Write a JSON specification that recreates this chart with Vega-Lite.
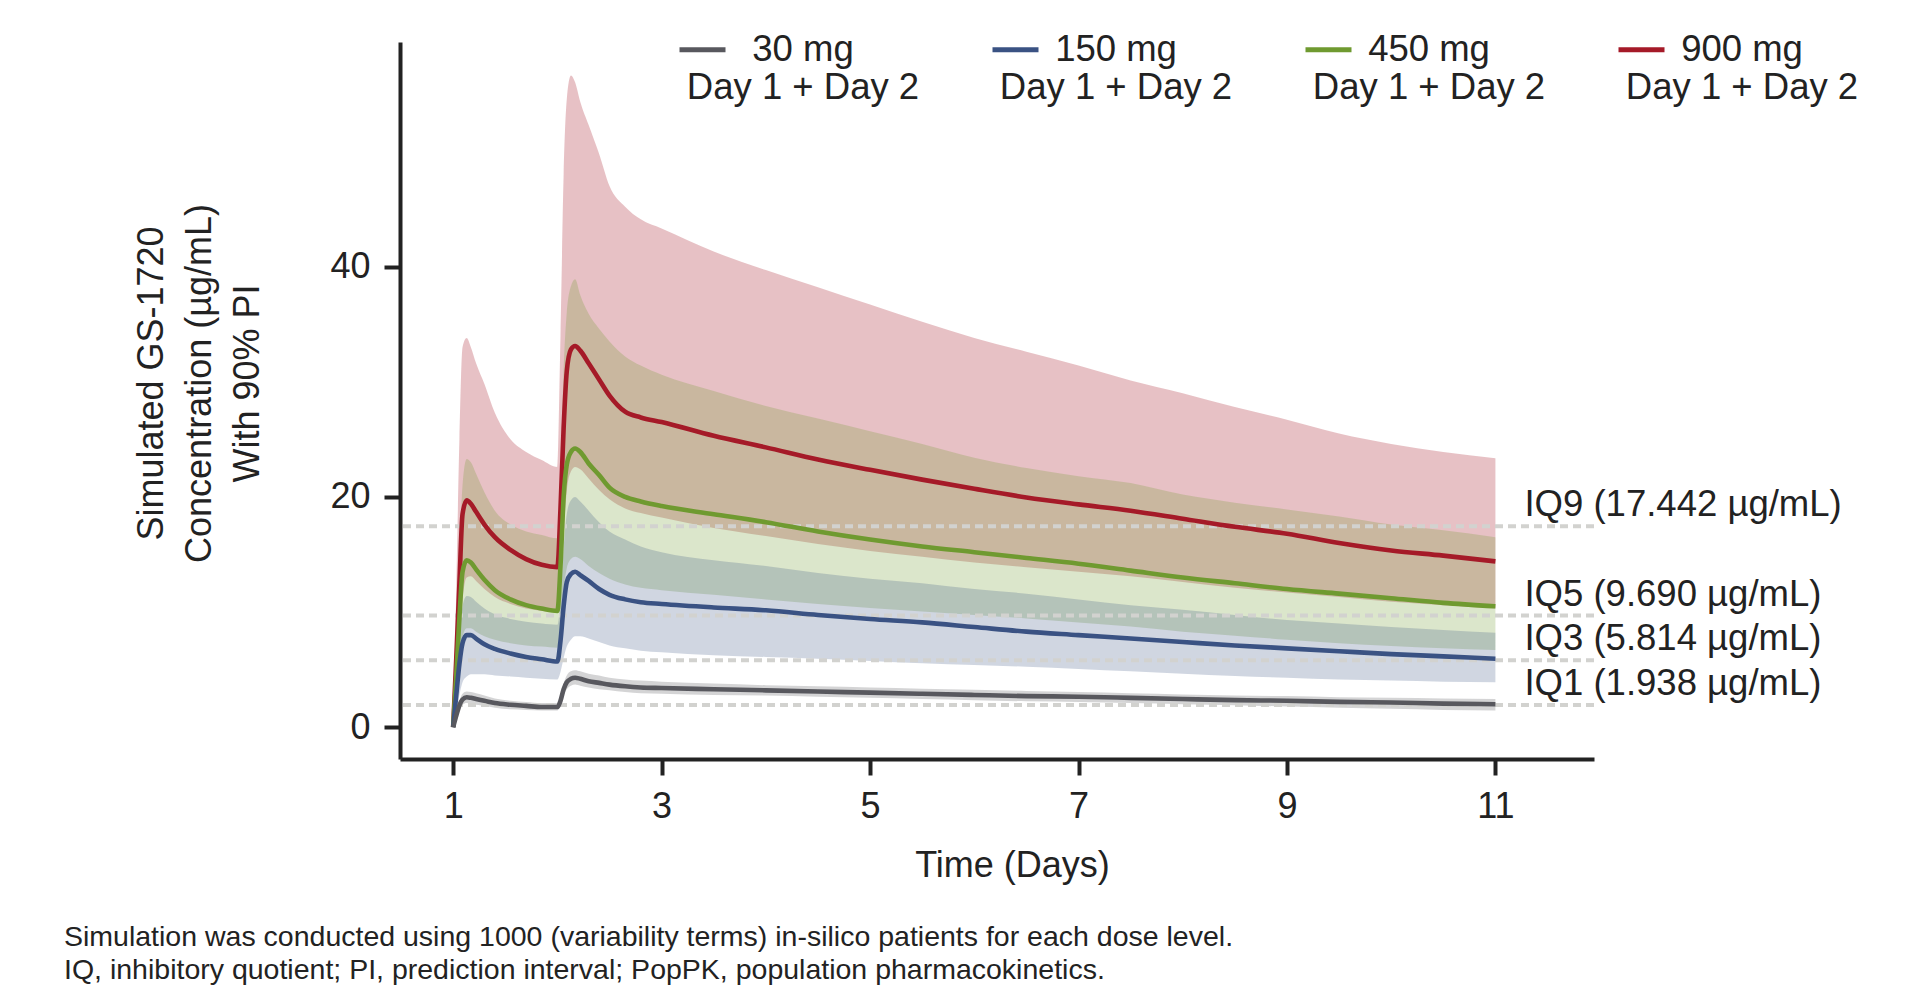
{
"$schema":"https://vega.github.io/schema/vega-lite/v6.json",
"width":1194,"height":717,
"autosize":{"type":"none"},
"padding":{"left":400,"top":42,"right":332,"bottom":226},
"background":"white",
"config":{"view":{"stroke":null},"font":"Liberation Sans",
"axis":{"grid":false,"domainColor":"#222","domainWidth":4,"tickColor":"#222","tickWidth":4,"tickSize":16,"labelFontSize":36,"labelColor":"#222","labelPadding":14,"titleFontSize":36,"titleColor":"#222","titleFontWeight":"normal","labelFont":"Liberation Sans","titleFont":"Liberation Sans"}},
"title":{"text":["Simulation was conducted using 1000 (variability terms) in-silico patients for each dose level.","IQ, inhibitory quotient; PI, prediction interval; PopPK, population pharmacokinetics."],"orient":"bottom","anchor":"start","frame":"group","dx":-336,"offset":40,"fontSize":28.5,"fontWeight":"normal","color":"#222","lineHeight":33,"font":"Liberation Sans"},
"datasets":{
"pk":[
{"d":"900 mg","t":1.0,"m":0,"lo":0,"hi":0},
{"d":"900 mg","t":1.03,"m":6,"lo":3,"hi":12},
{"d":"900 mg","t":1.06,"m":12.5,"lo":7,"hi":25},
{"d":"900 mg","t":1.09,"m":18.5,"lo":11,"hi":33.0},
{"d":"900 mg","t":1.13,"m":19.7,"lo":13.0,"hi":33.8},
{"d":"900 mg","t":1.17,"m":19.4,"lo":13.1,"hi":33.0},
{"d":"900 mg","t":1.22,"m":18.7,"lo":12.7,"hi":31.6},
{"d":"900 mg","t":1.3,"m":17.6,"lo":12.0,"hi":29.8},
{"d":"900 mg","t":1.4,"m":16.5,"lo":11.3,"hi":27.3},
{"d":"900 mg","t":1.55,"m":15.4,"lo":10.7,"hi":25.0},
{"d":"900 mg","t":1.7,"m":14.6,"lo":10.3,"hi":23.9},
{"d":"900 mg","t":1.85,"m":14.1,"lo":10.1,"hi":23.2},
{"d":"900 mg","t":2.0,"m":13.9,"lo":10.0,"hi":22.6},
{"d":"900 mg","t":2.03,"m":19,"lo":13,"hi":34},
{"d":"900 mg","t":2.06,"m":26,"lo":17,"hi":48},
{"d":"900 mg","t":2.09,"m":30.9,"lo":20.5,"hi":54.5},
{"d":"900 mg","t":2.13,"m":32.8,"lo":22.2,"hi":56.6},
{"d":"900 mg","t":2.17,"m":33.1,"lo":22.6,"hi":56.0},
{"d":"900 mg","t":2.22,"m":32.7,"lo":22.4,"hi":54.3},
{"d":"900 mg","t":2.3,"m":31.6,"lo":21.6,"hi":52.3},
{"d":"900 mg","t":2.4,"m":30.2,"lo":20.6,"hi":49.8},
{"d":"900 mg","t":2.5,"m":28.8,"lo":19.8,"hi":47.0},
{"d":"900 mg","t":2.65,"m":27.4,"lo":19.0,"hi":45.2},
{"d":"900 mg","t":2.8,"m":26.9,"lo":18.6,"hi":44.1},
{"d":"900 mg","t":3.0,"m":26.5,"lo":18.2,"hi":43.3},
{"d":"900 mg","t":3.5,"m":25.3,"lo":17.3,"hi":41.3},
{"d":"900 mg","t":4,"m":24.3,"lo":16.6,"hi":39.7},
{"d":"900 mg","t":4.5,"m":23.25,"lo":15.9,"hi":38.2},
{"d":"900 mg","t":5,"m":22.35,"lo":15.3,"hi":36.7},
{"d":"900 mg","t":5.5,"m":21.5,"lo":14.8,"hi":35.2},
{"d":"900 mg","t":6,"m":20.7,"lo":14.3,"hi":33.8},
{"d":"900 mg","t":6.5,"m":19.95,"lo":13.9,"hi":32.6},
{"d":"900 mg","t":7,"m":19.35,"lo":13.5,"hi":31.4},
{"d":"900 mg","t":7.5,"m":18.8,"lo":13.1,"hi":30.1},
{"d":"900 mg","t":8,"m":18.1,"lo":12.6,"hi":29.0},
{"d":"900 mg","t":8.5,"m":17.4,"lo":12.1,"hi":27.8},
{"d":"900 mg","t":9,"m":16.8,"lo":11.7,"hi":26.7},
{"d":"900 mg","t":9.5,"m":16.0,"lo":11.3,"hi":25.5},
{"d":"900 mg","t":10,"m":15.35,"lo":10.9,"hi":24.6},
{"d":"900 mg","t":10.5,"m":14.9,"lo":10.6,"hi":23.9},
{"d":"900 mg","t":11,"m":14.4,"lo":10.3,"hi":23.35},
{"d":"450 mg","t":1.0,"m":0,"lo":0,"hi":0},
{"d":"450 mg","t":1.03,"m":4.5,"lo":2.5,"hi":7.5},
{"d":"450 mg","t":1.06,"m":9.5,"lo":5.5,"hi":15},
{"d":"450 mg","t":1.09,"m":13.5,"lo":7.8,"hi":21},
{"d":"450 mg","t":1.13,"m":14.5,"lo":8.6,"hi":23.3},
{"d":"450 mg","t":1.17,"m":14.3,"lo":8.6,"hi":23.0},
{"d":"450 mg","t":1.22,"m":13.7,"lo":8.3,"hi":22.0},
{"d":"450 mg","t":1.3,"m":12.8,"lo":7.9,"hi":20.4},
{"d":"450 mg","t":1.4,"m":11.9,"lo":7.6,"hi":18.8},
{"d":"450 mg","t":1.55,"m":11.1,"lo":7.3,"hi":17.6},
{"d":"450 mg","t":1.7,"m":10.6,"lo":7.1,"hi":17.0},
{"d":"450 mg","t":1.85,"m":10.3,"lo":7.0,"hi":16.7},
{"d":"450 mg","t":2.0,"m":10.1,"lo":6.9,"hi":16.4},
{"d":"450 mg","t":2.03,"m":14,"lo":9,"hi":22},
{"d":"450 mg","t":2.06,"m":20,"lo":12,"hi":31},
{"d":"450 mg","t":2.09,"m":22.8,"lo":13.8,"hi":36},
{"d":"450 mg","t":2.13,"m":23.9,"lo":14.6,"hi":38.3},
{"d":"450 mg","t":2.17,"m":24.2,"lo":14.8,"hi":38.9},
{"d":"450 mg","t":2.22,"m":23.9,"lo":14.6,"hi":37.5},
{"d":"450 mg","t":2.3,"m":22.9,"lo":14.0,"hi":35.9},
{"d":"450 mg","t":2.4,"m":21.9,"lo":13.4,"hi":34.6},
{"d":"450 mg","t":2.5,"m":20.8,"lo":12.9,"hi":33.5},
{"d":"450 mg","t":2.65,"m":20.0,"lo":12.4,"hi":32.2},
{"d":"450 mg","t":2.8,"m":19.6,"lo":12.1,"hi":31.4},
{"d":"450 mg","t":3.0,"m":19.2,"lo":11.9,"hi":30.6},
{"d":"450 mg","t":3.5,"m":18.5,"lo":11.5,"hi":29.2},
{"d":"450 mg","t":4,"m":17.8,"lo":11.1,"hi":27.9},
{"d":"450 mg","t":4.5,"m":17.0,"lo":10.7,"hi":26.8},
{"d":"450 mg","t":5,"m":16.3,"lo":10.35,"hi":25.7},
{"d":"450 mg","t":5.5,"m":15.7,"lo":10.05,"hi":24.6},
{"d":"450 mg","t":6,"m":15.2,"lo":9.75,"hi":23.4},
{"d":"450 mg","t":6.5,"m":14.7,"lo":9.45,"hi":22.5},
{"d":"450 mg","t":7,"m":14.2,"lo":9.1,"hi":21.8},
{"d":"450 mg","t":7.5,"m":13.6,"lo":8.75,"hi":21.2},
{"d":"450 mg","t":8,"m":13.0,"lo":8.3,"hi":20.2},
{"d":"450 mg","t":8.5,"m":12.5,"lo":7.95,"hi":19.5},
{"d":"450 mg","t":9,"m":12.0,"lo":7.6,"hi":18.9},
{"d":"450 mg","t":9.5,"m":11.6,"lo":7.3,"hi":18.3},
{"d":"450 mg","t":10,"m":11.2,"lo":7.05,"hi":17.6},
{"d":"450 mg","t":10.5,"m":10.8,"lo":6.85,"hi":17.1},
{"d":"450 mg","t":11,"m":10.5,"lo":6.7,"hi":16.5},
{"d":"150 mg","t":1.0,"m":0,"lo":0,"hi":0},
{"d":"150 mg","t":1.03,"m":2.8,"lo":1.4,"hi":4},
{"d":"150 mg","t":1.06,"m":5.5,"lo":2.8,"hi":8},
{"d":"150 mg","t":1.09,"m":7.3,"lo":3.9,"hi":10.5},
{"d":"150 mg","t":1.13,"m":8.0,"lo":4.4,"hi":11.4},
{"d":"150 mg","t":1.17,"m":8.0,"lo":4.6,"hi":11.3},
{"d":"150 mg","t":1.22,"m":7.7,"lo":4.6,"hi":10.9},
{"d":"150 mg","t":1.3,"m":7.2,"lo":4.6,"hi":10.3},
{"d":"150 mg","t":1.4,"m":6.8,"lo":4.5,"hi":9.8},
{"d":"150 mg","t":1.55,"m":6.4,"lo":4.4,"hi":9.4},
{"d":"150 mg","t":1.7,"m":6.1,"lo":4.3,"hi":9.15},
{"d":"150 mg","t":1.85,"m":5.9,"lo":4.2,"hi":9.0},
{"d":"150 mg","t":2.0,"m":5.7,"lo":4.15,"hi":8.9},
{"d":"150 mg","t":2.03,"m":7.5,"lo":4.8,"hi":11},
{"d":"150 mg","t":2.06,"m":10.5,"lo":6.0,"hi":15.5},
{"d":"150 mg","t":2.09,"m":12.6,"lo":7.0,"hi":18.5},
{"d":"150 mg","t":2.13,"m":13.3,"lo":7.6,"hi":19.7},
{"d":"150 mg","t":2.17,"m":13.5,"lo":7.9,"hi":20.0},
{"d":"150 mg","t":2.22,"m":13.2,"lo":7.9,"hi":19.6},
{"d":"150 mg","t":2.3,"m":12.7,"lo":7.7,"hi":18.8},
{"d":"150 mg","t":2.4,"m":12.0,"lo":7.4,"hi":17.8},
{"d":"150 mg","t":2.5,"m":11.5,"lo":7.1,"hi":17.0},
{"d":"150 mg","t":2.65,"m":11.1,"lo":6.85,"hi":16.3},
{"d":"150 mg","t":2.8,"m":10.85,"lo":6.65,"hi":15.7},
{"d":"150 mg","t":3.0,"m":10.7,"lo":6.5,"hi":15.2},
{"d":"150 mg","t":3.5,"m":10.4,"lo":6.25,"hi":14.5},
{"d":"150 mg","t":4,"m":10.15,"lo":6.1,"hi":14.0},
{"d":"150 mg","t":4.5,"m":9.75,"lo":5.95,"hi":13.4},
{"d":"150 mg","t":5,"m":9.4,"lo":5.75,"hi":12.9},
{"d":"150 mg","t":5.5,"m":9.1,"lo":5.55,"hi":12.5},
{"d":"150 mg","t":6,"m":8.7,"lo":5.4,"hi":12.0},
{"d":"150 mg","t":6.5,"m":8.3,"lo":5.25,"hi":11.6},
{"d":"150 mg","t":7,"m":8.0,"lo":5.05,"hi":11.1},
{"d":"150 mg","t":7.5,"m":7.7,"lo":4.85,"hi":10.6},
{"d":"150 mg","t":8,"m":7.4,"lo":4.65,"hi":10.2},
{"d":"150 mg","t":8.5,"m":7.1,"lo":4.45,"hi":9.75},
{"d":"150 mg","t":9,"m":6.85,"lo":4.3,"hi":9.3},
{"d":"150 mg","t":9.5,"m":6.6,"lo":4.15,"hi":9.0},
{"d":"150 mg","t":10,"m":6.35,"lo":4.05,"hi":8.7},
{"d":"150 mg","t":10.5,"m":6.15,"lo":3.95,"hi":8.45},
{"d":"150 mg","t":11,"m":5.95,"lo":3.9,"hi":8.2},
{"d":"30 mg","t":1.0,"m":0,"lo":0,"hi":0},
{"d":"30 mg","t":1.03,"m":1.0,"lo":0.8,"hi":1.2},
{"d":"30 mg","t":1.06,"m":1.9,"lo":1.5,"hi":2.3},
{"d":"30 mg","t":1.09,"m":2.4,"lo":1.95,"hi":2.9},
{"d":"30 mg","t":1.13,"m":2.6,"lo":2.1,"hi":3.1},
{"d":"30 mg","t":1.17,"m":2.55,"lo":2.05,"hi":3.05},
{"d":"30 mg","t":1.22,"m":2.45,"lo":1.95,"hi":2.95},
{"d":"30 mg","t":1.3,"m":2.3,"lo":1.85,"hi":2.75},
{"d":"30 mg","t":1.4,"m":2.1,"lo":1.7,"hi":2.5},
{"d":"30 mg","t":1.55,"m":1.95,"lo":1.55,"hi":2.3},
{"d":"30 mg","t":1.7,"m":1.85,"lo":1.5,"hi":2.2},
{"d":"30 mg","t":1.85,"m":1.75,"lo":1.45,"hi":2.1},
{"d":"30 mg","t":2.0,"m":1.75,"lo":1.45,"hi":2.1},
{"d":"30 mg","t":2.03,"m":2.3,"lo":1.9,"hi":2.7},
{"d":"30 mg","t":2.06,"m":3.3,"lo":2.8,"hi":3.8},
{"d":"30 mg","t":2.09,"m":3.9,"lo":3.3,"hi":4.5},
{"d":"30 mg","t":2.13,"m":4.2,"lo":3.6,"hi":4.85},
{"d":"30 mg","t":2.17,"m":4.3,"lo":3.7,"hi":4.95},
{"d":"30 mg","t":2.22,"m":4.2,"lo":3.6,"hi":4.85},
{"d":"30 mg","t":2.3,"m":4.0,"lo":3.45,"hi":4.65},
{"d":"30 mg","t":2.4,"m":3.85,"lo":3.3,"hi":4.5},
{"d":"30 mg","t":2.5,"m":3.7,"lo":3.2,"hi":4.3},
{"d":"30 mg","t":2.65,"m":3.55,"lo":3.05,"hi":4.15},
{"d":"30 mg","t":2.8,"m":3.45,"lo":2.95,"hi":4.05},
{"d":"30 mg","t":3.0,"m":3.4,"lo":2.9,"hi":3.95},
{"d":"30 mg","t":3.5,"m":3.3,"lo":2.8,"hi":3.8},
{"d":"30 mg","t":4,"m":3.2,"lo":2.75,"hi":3.65},
{"d":"30 mg","t":4.5,"m":3.1,"lo":2.65,"hi":3.55},
{"d":"30 mg","t":5,"m":3.0,"lo":2.55,"hi":3.45},
{"d":"30 mg","t":5.5,"m":2.9,"lo":2.45,"hi":3.35},
{"d":"30 mg","t":6,"m":2.8,"lo":2.35,"hi":3.25},
{"d":"30 mg","t":6.5,"m":2.7,"lo":2.25,"hi":3.15},
{"d":"30 mg","t":7,"m":2.65,"lo":2.2,"hi":3.05},
{"d":"30 mg","t":7.5,"m":2.55,"lo":2.1,"hi":2.95},
{"d":"30 mg","t":8,"m":2.45,"lo":2.0,"hi":2.85},
{"d":"30 mg","t":8.5,"m":2.35,"lo":1.9,"hi":2.75},
{"d":"30 mg","t":9,"m":2.3,"lo":1.8,"hi":2.7},
{"d":"30 mg","t":9.5,"m":2.2,"lo":1.7,"hi":2.6},
{"d":"30 mg","t":10,"m":2.15,"lo":1.6,"hi":2.55},
{"d":"30 mg","t":10.5,"m":2.05,"lo":1.5,"hi":2.5},
{"d":"30 mg","t":11,"m":2.0,"lo":1.45,"hi":2.45}
],
"iq":[
{"iq":17.442,"label":"IQ9 (17.442 µg/mL)"},
{"iq":9.690,"label":"IQ5 (9.690 µg/mL)"},
{"iq":5.814,"label":"IQ3 (5.814 µg/mL)"},
{"iq":1.938,"label":"IQ1 (1.938 µg/mL)"}
]},
"layer":[
{"data":{"name":"pk"},"transform":[{"filter":"datum.d == '900 mg'"}],
"mark":{"type":"area","color":"#a51a28","opacity":0.27,"interpolate":"monotone"},
"encoding":{
"x":{"field":"t","type":"quantitative","scale":{"domain":[0.49,11.946],"nice":false,"zero":false},
"axis":{"values":[1,3,5,7,9,11],"format":"d","title":"Time (Days)","titleX":612,"titleY":89,"titleBaseline":"top","titleAnchor":"middle","titleAlign":"center"}},
"y":{"field":"lo","type":"quantitative","scale":{"domain":[-2.76,59.5],"nice":false,"zero":false},
"axis":{"values":[0,20,40],"format":"d","title":["Simulated GS-1720","Concentration (µg/mL)","With 90% PI"],"titleLineHeight":48,"titleX":-230,"titleY":341,"titleAngle":270,"titleAlign":"center","titleBaseline":"bottom"}},
"y2":{"field":"hi"}}},
{"data":{"name":"pk"},"transform":[{"filter":"datum.d == '450 mg'"}],
"mark":{"type":"area","color":"#6f9a30","opacity":0.25,"interpolate":"monotone"},
"encoding":{
"x":{"field":"t","type":"quantitative","scale":{"domain":[0.49,11.946],"nice":false,"zero":false}},
"y":{"field":"lo","type":"quantitative","scale":{"domain":[-2.76,59.5],"nice":false,"zero":false}},
"y2":{"field":"hi"}}},
{"data":{"name":"pk"},"transform":[{"filter":"datum.d == '150 mg'"}],
"mark":{"type":"area","color":"#3a5283","opacity":0.24,"interpolate":"monotone"},
"encoding":{
"x":{"field":"t","type":"quantitative","scale":{"domain":[0.49,11.946],"nice":false,"zero":false}},
"y":{"field":"lo","type":"quantitative","scale":{"domain":[-2.76,59.5],"nice":false,"zero":false}},
"y2":{"field":"hi"}}},
{"data":{"name":"pk"},"transform":[{"filter":"datum.d == '30 mg'"}],
"mark":{"type":"area","color":"#58585e","opacity":0.26,"interpolate":"monotone"},
"encoding":{
"x":{"field":"t","type":"quantitative","scale":{"domain":[0.49,11.946],"nice":false,"zero":false}},
"y":{"field":"lo","type":"quantitative","scale":{"domain":[-2.76,59.5],"nice":false,"zero":false}},
"y2":{"field":"hi"}}},
{"data":{"name":"iq"},
"mark":{"type":"rule","color":"#d2d2cf","strokeWidth":4,"strokeDash":[8,5]},
"encoding":{
"y":{"field":"iq","type":"quantitative","scale":{"domain":[-2.76,59.5],"nice":false,"zero":false}}}},
{"data":{"name":"pk"},
"mark":{"type":"line","strokeWidth":4.6,"interpolate":"monotone"},
"encoding":{
"x":{"field":"t","type":"quantitative","scale":{"domain":[0.49,11.946],"nice":false,"zero":false}},
"y":{"field":"m","type":"quantitative","scale":{"domain":[-2.76,59.5],"nice":false,"zero":false}},
"color":{"field":"d","type":"nominal","scale":{"domain":["30 mg","150 mg","450 mg","900 mg"],"range":["#58585e","#3a5283","#6f9a30","#a51a28"]},
"legend":{"orient":"none","legendX":277,"legendY":-18,"direction":"horizontal","title":null,"symbolType":"stroke","symbolStrokeWidth":5,"symbolSize":2116,"labelFontSize":36.5,"labelColor":"#222","labelFont":"Liberation Sans","labelAlign":"center","labelOffset":75,"labelBaseline":"middle","labelLineHeight":38,"columnPadding":62,"labelLimit":0,"padding":0,"labelExpr":"[datum.label, 'Day 1 + Day 2']"}}}},
{"data":{"name":"iq"},
"mark":{"type":"text","align":"left","baseline":"alphabetic","dy":-10,"fontSize":36.5,"color":"#222","font":"Liberation Sans"},
"encoding":{
"x":{"datum":11.279,"type":"quantitative","scale":{"domain":[0.49,11.946],"nice":false,"zero":false}},
"y":{"field":"iq","type":"quantitative","scale":{"domain":[-2.76,59.5],"nice":false,"zero":false}},
"text":{"field":"label"}}}
]
}
